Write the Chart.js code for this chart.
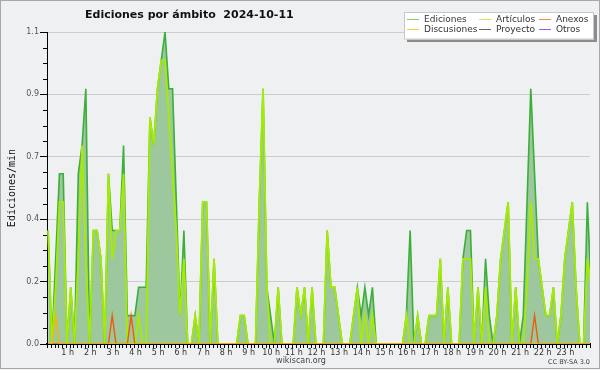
<!DOCTYPE html>
<html>
<head>
<meta charset="utf-8">
<script src="https://cdn.jsdelivr.net/npm/chart.js@4.4.1/dist/chart.umd.min.js"></script>
<style>
    html, body { margin: 0; padding: 0; background: #eff0f1; }
    canvas { display: block; }
</style>
</head>
<body>
<canvas id="chart" width="600" height="370"></canvas>
<script>
// 10 minute bins over the day, values in edits per minute
const ediciones = [
    0.4, 0, 0.3, 0.6, 0.6, 0, 0.2, 0, 0.6, 0.7, 0.9, 0,
    0.4, 0.4, 0.3, 0, 0.6, 0.4, 0.4, 0.4, 0.7, 0.1, 0.1, 0.1,
    0.2, 0.2, 0.2, 0.8, 0.7, 0.9, 1.0, 1.1, 0.9, 0.9, 0.5, 0.1,
    0.4, 0, 0, 0.1, 0, 0.5, 0.5, 0, 0.3, 0, 0, 0,
    0, 0, 0, 0.1, 0.1, 0, 0, 0, 0.5, 0.9, 0.2, 0.1,
    0, 0.2, 0, 0, 0, 0, 0.2, 0.1, 0.2, 0, 0.2, 0,
    0, 0, 0.4, 0.2, 0.2, 0.1, 0, 0, 0, 0.1, 0.2, 0.1,
    0.2, 0.1, 0.2, 0, 0, 0, 0, 0, 0, 0, 0, 0.1,
    0.4, 0, 0.1, 0, 0, 0.1, 0.1, 0.1, 0.3, 0, 0.2, 0,
    0, 0, 0.3, 0.4, 0.4, 0, 0.2, 0, 0.3, 0.1, 0, 0.1,
    0.3, 0.4, 0.5, 0, 0.2, 0, 0.1, 0.5, 0.9, 0.6, 0.3, 0.2,
    0.1, 0.1, 0.2, 0, 0.1, 0.3, 0.4, 0.5, 0.2, 0, 0, 0.5,
    0.2
];
const articulos = [
    0.4, 0, 0.2, 0.5, 0.5, 0, 0.2, 0, 0.3, 0.7, 0.3, 0,
    0.4, 0.4, 0.3, 0, 0.6, 0.3, 0.4, 0.4, 0.6, 0, 0, 0,
    0.1, 0, 0, 0.8, 0.7, 0.9, 1.0, 1.0, 0.8, 0.6, 0.4, 0.1,
    0.3, 0, 0, 0.1, 0, 0.5, 0.5, 0, 0.3, 0, 0, 0,
    0, 0, 0, 0.1, 0.1, 0, 0, 0, 0.5, 0.9, 0.2, 0,
    0, 0.2, 0, 0, 0, 0, 0.2, 0.1, 0.2, 0, 0.2, 0,
    0, 0, 0.4, 0.2, 0.2, 0.1, 0, 0, 0, 0.1, 0.2, 0,
    0.1, 0, 0.1, 0, 0, 0, 0, 0, 0, 0, 0, 0.1,
    0, 0, 0.1, 0, 0, 0.1, 0.1, 0.1, 0.3, 0, 0.2, 0,
    0, 0, 0.3, 0.3, 0.3, 0, 0.2, 0, 0.2, 0, 0, 0.1,
    0.3, 0.4, 0.5, 0, 0.2, 0, 0, 0.2, 0.5, 0.3, 0.3, 0.2,
    0.1, 0.1, 0.2, 0, 0.1, 0.3, 0.4, 0.5, 0.2, 0, 0, 0.3,
    0.2
];
const anexos = [
    0, 0, 0, 0, 0, 0, 0, 0, 0, 0, 0, 0,
    0, 0, 0, 0, 0, 0.1, 0, 0, 0, 0, 0.1, 0,
    0, 0, 0, 0, 0, 0, 0, 0, 0, 0, 0, 0,
    0, 0, 0, 0, 0, 0, 0, 0, 0, 0, 0, 0,
    0, 0, 0, 0, 0, 0, 0, 0, 0, 0, 0, 0,
    0, 0, 0, 0, 0, 0, 0, 0, 0, 0, 0, 0,
    0, 0, 0, 0, 0, 0, 0, 0, 0, 0, 0, 0,
    0, 0, 0, 0, 0, 0, 0, 0, 0, 0, 0, 0,
    0, 0, 0, 0, 0, 0, 0, 0, 0, 0, 0, 0,
    0, 0, 0, 0, 0, 0, 0, 0, 0, 0, 0, 0,
    0, 0, 0, 0, 0, 0, 0, 0, 0, 0.1, 0, 0,
    0, 0, 0, 0, 0, 0, 0, 0, 0, 0, 0, 0,
    0
];
const discusiones = [
    0, 0, 0.1, 0, 0, 0, 0, 0, 0, 0, 0, 0,
    0, 0, 0, 0, 0, 0, 0, 0, 0, 0, 0, 0,
    0, 0, 0, 0, 0, 0, 0, 0, 0, 0, 0, 0,
    0, 0, 0, 0, 0, 0, 0, 0, 0, 0, 0, 0,
    0, 0, 0, 0, 0, 0, 0, 0, 0, 0, 0, 0,
    0, 0, 0, 0, 0, 0, 0, 0, 0, 0, 0, 0,
    0, 0, 0, 0, 0, 0, 0, 0, 0, 0, 0, 0,
    0, 0, 0, 0, 0, 0, 0, 0, 0, 0, 0, 0,
    0, 0, 0, 0, 0, 0, 0, 0, 0, 0, 0, 0,
    0, 0, 0, 0, 0, 0, 0, 0, 0, 0, 0, 0,
    0, 0, 0, 0, 0, 0, 0, 0, 0, 0, 0, 0,
    0, 0, 0, 0, 0, 0, 0, 0, 0, 0, 0, 0,
    0
];
const proyecto = [
    0, 0, 0, 0, 0, 0, 0, 0, 0, 0, 0, 0,  0, 0, 0, 0, 0, 0, 0, 0, 0, 0, 0, 0,
    0, 0, 0, 0, 0, 0, 0, 0, 0, 0, 0, 0,  0, 0, 0, 0, 0, 0, 0, 0, 0, 0, 0, 0,
    0, 0, 0, 0, 0, 0, 0, 0, 0, 0, 0, 0,  0, 0, 0, 0, 0, 0, 0, 0, 0, 0, 0, 0,
    0, 0, 0, 0, 0, 0, 0, 0, 0, 0, 0, 0,  0, 0, 0, 0, 0, 0, 0, 0, 0, 0, 0, 0,
    0, 0, 0, 0, 0, 0, 0, 0, 0, 0, 0, 0,  0, 0, 0, 0, 0, 0, 0, 0, 0, 0, 0, 0,
    0, 0, 0, 0, 0, 0, 0, 0, 0, 0, 0, 0,  0, 0, 0, 0, 0, 0, 0, 0, 0, 0, 0, 0,
    0
];
const otros = [
    0, 0, 0, 0, 0, 0, 0, 0, 0, 0, 0, 0,  0, 0, 0, 0, 0, 0, 0, 0, 0, 0, 0, 0,
    0, 0, 0, 0, 0, 0, 0, 0, 0, 0, 0, 0,  0, 0, 0, 0, 0, 0, 0, 0, 0, 0, 0, 0,
    0, 0, 0, 0, 0, 0, 0, 0, 0, 0, 0, 0,  0, 0, 0, 0, 0, 0, 0, 0, 0, 0, 0, 0,
    0, 0, 0, 0, 0, 0, 0, 0, 0, 0, 0, 0,  0, 0, 0, 0, 0, 0, 0, 0, 0, 0, 0, 0,
    0, 0, 0, 0, 0, 0, 0, 0, 0, 0, 0, 0,  0, 0, 0, 0, 0, 0, 0, 0, 0, 0, 0, 0,
    0, 0, 0, 0, 0, 0, 0, 0, 0, 0, 0, 0,  0, 0, 0, 0, 0, 0, 0, 0, 0, 0, 0, 0,
    0
];

const hourTicks = [1, 2, 3, 4, 5, 6, 7, 8, 9, 10, 11, 12, 13, 14, 15, 16, 17, 18, 19, 20, 21, 22, 23];
const hourLabels = ['1 h', '2 h', '3 h', '4 h', '5 h', '6 h', '7 h', '8 h', '9 h', '10 h', '11 h', '12 h',
    '13 h', '14 h', '15 h', '16 h', '17 h', '18 h', '19 h', '20 h', '21 h', '22 h', '23 h'];
const yTicks = [0, 0.22, 0.44, 0.66, 0.88, 1.1];
const yTickLabels = ['0.0', '0.2', '0.4', '0.7', '0.9', '1.1'];

const BIN_OFFSET = 0.3; // where inside the 10 min bin the point sits
const binHours = ediciones.map((_, i) => (i + BIN_OFFSET) / 6);

function series(label, data, color, width, order, extra) {
    return Object.assign({
        label, data, borderColor: color, backgroundColor: color, borderWidth: width,
        pointRadius: 0, tension: 0, fill: false, order
    }, extra || {});
}

const datasets = [
    series('Ediciones', ediciones, '#3aaf3a', 1.6, 6, { fill: 'origin', backgroundColor: '#9dc89d' }),
    series('Artículos', articulos, '#a6ec00', 1.8, 5),
    series('Anexos', anexos, '#ee5a10', 1.4, 2),
    series('Discusiones', discusiones, '#f0b800', 1.4, 1),
    series('Proyecto', proyecto, '#555555', 1, 7),
    series('Otros', otros, '#8840ee', 1, 8)
];
const legendColors = ['#7fcf7f', '#c8f050', '#f08a55', '#f5d040', '#666666', '#9955f0'];

const extras = {
    id: 'extras',
    beforeDraw(chart) {
        const ctx = chart.ctx;
        ctx.save();
        ctx.fillStyle = '#eff0f1';
        ctx.fillRect(0, 0, chart.width, chart.height);
        ctx.restore();
    },
    afterDraw(chart) {
        const { ctx, scales: { x, y } } = chart;
        ctx.save();

        // minor ticks: one per bin on x, quarters on y
        ctx.strokeStyle = '#000';
        ctx.lineWidth = 1;
        ctx.beginPath();
        for (let i = 0; i <= 144; i++) {
            const px = Math.round(x.getPixelForValue(i / 6)) + 0.5;
            ctx.moveTo(px, y.bottom);
            ctx.lineTo(px, y.bottom + 4);
        }
        for (let k = 1; k < 20; k++) {
            if (k % 4 === 0) continue;
            const py = Math.round(y.getPixelForValue(k * 0.055)) + 0.5;
            ctx.moveTo(x.left - 4, py);
            ctx.lineTo(x.left, py);
        }
        ctx.stroke();

        // title
        ctx.fillStyle = '#111';
        ctx.font = 'bold 11px "DejaVu Sans"';
        ctx.textAlign = 'left';
        ctx.textBaseline = 'alphabetic';
        ctx.fillText('Ediciones por ámbito  2024-10-11', 85, 18);

        // y axis title
        ctx.save();
        ctx.translate(12, (y.top + y.bottom) / 2);
        ctx.rotate(-Math.PI / 2);
        ctx.textAlign = 'center';
        ctx.textBaseline = 'middle';
        ctx.font = '10px "DejaVu Sans Mono"';
        ctx.fillStyle = '#111';
        ctx.fillText('Ediciones/min', 0, 0);
        ctx.restore();

        // footer
        ctx.font = '8px "DejaVu Sans"';
        ctx.fillStyle = '#444';
        ctx.textAlign = 'center';
        ctx.textBaseline = 'middle';
        ctx.fillText('wikiscan.org', 301, 361);
        ctx.font = '6.5px "DejaVu Sans"';
        ctx.textAlign = 'right';
        ctx.fillText('CC BY-SA 3.0', 590, 362);

        // legend box with shadow
        ctx.fillStyle = '#8c8c8c';
        ctx.fillRect(407, 15, 190, 27);
        ctx.fillStyle = '#ffffff';
        ctx.fillRect(404, 12, 190, 27.5);
        ctx.strokeStyle = '#c8c8c8';
        ctx.lineWidth = 1;
        ctx.strokeRect(404.5, 12.5, 189, 26.5);

        const cols = [407, 479, 539];
        const rows = [19.5, 29.5];
        ctx.font = '9px "DejaVu Sans"';
        ctx.textAlign = 'left';
        ctx.textBaseline = 'middle';
        chart.data.datasets.forEach((ds, i) => {
            const lx = cols[i % 3];
            const ly = rows[Math.floor(i / 3)];
            ctx.strokeStyle = legendColors[i];
            ctx.beginPath();
            ctx.moveTo(lx, ly);
            ctx.lineTo(lx + 12, ly);
            ctx.stroke();
            ctx.fillStyle = '#333';
            ctx.fillText(ds.label, lx + 17, ly);
        });

        // outer frame
        ctx.strokeStyle = '#a8a8a8';
        ctx.strokeRect(0.5, 0.5, chart.width - 1, chart.height - 2);
        ctx.restore();
    }
};

new Chart(document.getElementById('chart'), {
    type: 'line',
    data: { labels: binHours, datasets },
    options: {
        responsive: false,
        animation: false,
        events: [],
        layout: { padding: { top: 32, right: 10, left: 0, bottom: 0 } },
        plugins: { legend: { display: false }, tooltip: { enabled: false } },
        scales: {
            x: {
                type: 'linear',
                min: 0,
                max: 24,
                z: 1,
                grid: { display: false, drawTicks: false },
                border: { display: true, color: '#000', width: 2 },
                ticks: {
                    autoSkip: false,
                    maxRotation: 0,
                    padding: 4,
                    labelOffset: -2,
                    color: '#333',
                    font: { family: 'DejaVu Sans', size: 8 },
                    callback: (v, i) => hourLabels[i]
                },
                afterBuildTicks: s => { s.ticks = hourTicks.map(v => ({ value: v })); },
                afterFit: s => { s.height = 26; }
            },
            y: {
                min: 0,
                max: 1.1,
                grid: { color: '#cccccc', tickColor: '#000', tickLength: 7 },
                border: { display: true, color: '#000', width: 1 },
                ticks: {
                    padding: 1,
                    color: '#555',
                    font: { family: 'DejaVu Sans', size: 8 },
                    callback: (v, i) => yTickLabels[i]
                },
                afterBuildTicks: s => { s.ticks = yTicks.map(v => ({ value: v })); },
                afterFit: s => { s.width = 47; }
            }
        }
    },
    plugins: [extras]
});
</script>
</body>
</html>
